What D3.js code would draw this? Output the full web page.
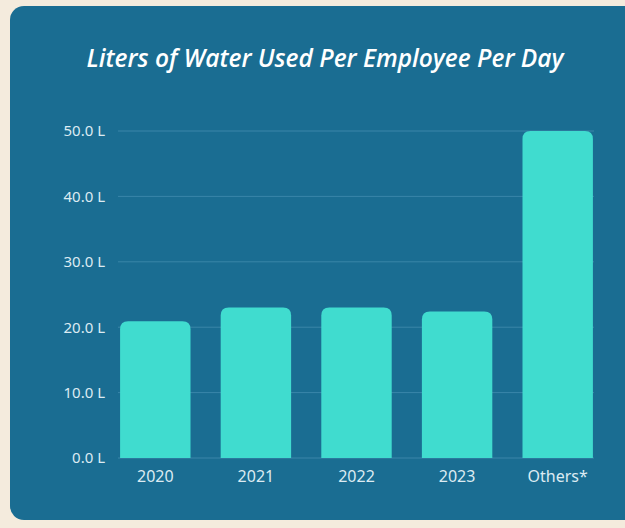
<!DOCTYPE html>
<html>
<head>
<meta charset="utf-8">
<script src="https://cdn.jsdelivr.net/npm/d3@7"></script>
<style>
  html, body { margin: 0; padding: 0; background: #f4ebdd; }
  #chart svg { display: block; }
</style>
</head>
<body>
<div id="chart"></div>
<script>
// chart values
const categories = ['2020', '2021', '2022', '2023', 'Others*'];
const litres = [20.9, 23.0, 23.0, 22.4, 50.0];
const yTicks = [0, 10, 20, 30, 40, 50];
const titleText = 'Liters of Water Used Per Employee Per Day';

function drawChart() {
  const w = 625;
  const h = 528;

  const svg = d3.select('#chart').append('svg').attr('width', w).attr('height', h);

  // beige page behind the card
  svg.append('rect').attr('width', w).attr('height', h).attr('fill', '#f4ebdd');

  // the blue card
  svg.append('rect')
    .attr('x', 10).attr('y', 6)
    .attr('width', 660).attr('height', 514)
    .attr('rx', 14)
    .attr('fill', '#1a6d92');

  svg.append('text')
    .attr('x', 325).attr('y', 67)
    .attr('text-anchor', 'middle')
    .attr('fill', '#ffffff')
    .style('font-family', "'Open Sans', sans-serif")
    .style('font-style', 'italic')
    .style('font-weight', 600)
    .style('font-size', '24.5px')
    .text(titleText);

  const x = d3.scaleBand().domain(categories).range([105, 608]).paddingInner(0.3).paddingOuter(0.15);
  const y = d3.scaleLinear().domain([0, 50]).range([458, 131]);

  // gridlines
  svg.append('g')
    .selectAll('line')
    .data(yTicks)
    .enter()
    .append('line')
    .attr('x1', 118).attr('x2', 594)
    .attr('y1', (d) => y(d)).attr('y2', (d) => y(d))
    .attr('stroke', '#3a86a9')
    .attr('stroke-width', 1);

  // bars with rounded tops
  const r = 8;
  svg.append('g')
    .selectAll('path')
    .data(litres)
    .enter()
    .append('path')
    .attr('fill', '#40dccf')
    .attr('d', (d, i) => {
      const x0 = x(categories[i]);
      const x1 = x0 + x.bandwidth();
      const top = y(d);
      const bot = y(0);
      return `M${x0},${bot}V${top + r}Q${x0},${top} ${x0 + r},${top}H${x1 - r}Q${x1},${top} ${x1},${top + r}V${bot}Z`;
    });

  // y axis labels
  const yAxis = d3.axisLeft(y).tickValues(yTicks).tickSize(0).tickPadding(0)
    .tickFormat((d) => d3.format('.1f')(d) + ' L');
  const gy = svg.append('g').attr('transform', 'translate(105,0)').call(yAxis);
  gy.select('.domain').remove();
  gy.selectAll('text')
    .attr('fill', '#dcebf2')
    .style('font-family', "'Noto Sans', sans-serif")
    .style('font-size', '15px');

  // x axis labels
  const xAxis = d3.axisBottom(x).tickSize(0).tickPadding(13);
  const gx = svg.append('g').attr('transform', 'translate(0,458)').call(xAxis);
  gx.select('.domain').remove();
  gx.selectAll('text')
    .attr('fill', '#dcebf2')
    .style('font-family', "'Noto Sans', sans-serif")
    .style('font-size', '16px');
}

window.onload = function () {
  drawChart();
};
</script>
</body>
</html>
